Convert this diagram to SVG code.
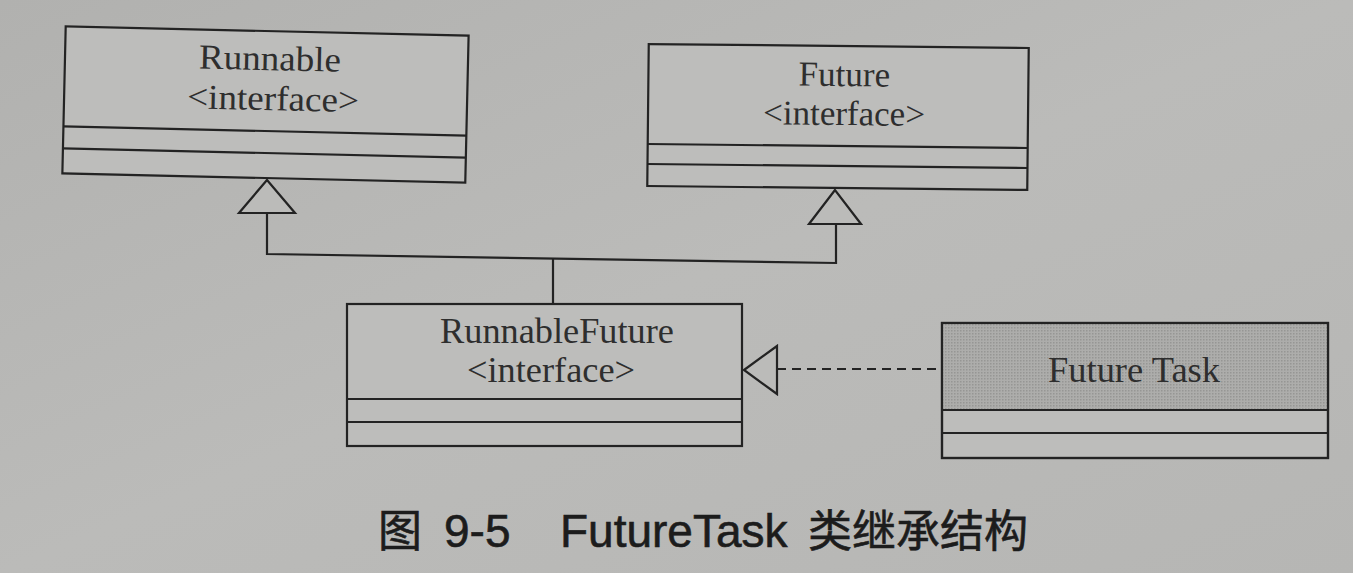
<svg xmlns="http://www.w3.org/2000/svg" width="1353" height="573" viewBox="0 0 1353 573">
  <defs>
    <style>
      .box { fill: #bdbdbb; stroke: #232323; stroke-width: 2.2; }
      .line { fill: none; stroke: #232323; stroke-width: 2.2; }
      .lbl { font-family: "Liberation Serif", "Times New Roman", serif; font-size: 35px; fill: #2e2e2e; text-anchor: middle; }
      .cap { font-family: "Liberation Sans", "Noto Sans CJK SC", sans-serif; font-size: 44px; fill: #1c1c1c; stroke: #1c1c1c; stroke-width: 0.6; }
      .tri { fill: #bbbbb9; stroke: #232323; stroke-width: 2.2; }
    </style>
    <linearGradient id="bg" x1="0" y1="0" x2="1" y2="1">
      <stop offset="0" stop-color="#b1b1af"/>
      <stop offset="0.5" stop-color="#bbbbb9"/>
      <stop offset="1" stop-color="#b6b6b4"/>
    </linearGradient>
    <pattern id="dots" width="3" height="3" patternUnits="userSpaceOnUse">
      <rect width="3" height="3" fill="#adadab"/>
      <rect width="1.5" height="1.5" fill="#969694"/>
    </pattern>
  </defs>
  <rect width="1353" height="573" fill="url(#bg)"/>

  <g id="runnable" transform="rotate(1.3 265 104)">
    <rect class="box" x="64" y="31" width="403" height="147"/>
    <line class="line" x1="64" y1="131" x2="467" y2="131"/>
    <line class="line" x1="64" y1="153" x2="467" y2="153"/>
    <text class="lbl" x="269" y="70" textLength="142" lengthAdjust="spacingAndGlyphs">Runnable</text>
    <text class="lbl" x="273" y="110" textLength="172" lengthAdjust="spacingAndGlyphs">&lt;interface&gt;</text>
  </g>

  <g id="future" transform="rotate(0.6 838 117)">
    <rect class="box" x="648" y="46" width="380" height="142"/>
    <line class="line" x1="648" y1="146" x2="1028" y2="146"/>
    <line class="line" x1="648" y1="166" x2="1028" y2="166"/>
    <text class="lbl" x="844" y="86">Future</text>
    <text class="lbl" x="844" y="125" textLength="162" lengthAdjust="spacingAndGlyphs">&lt;interface&gt;</text>
  </g>

  <g id="runnablefuture">
    <rect class="box" x="347" y="304" width="395" height="142"/>
    <line class="line" x1="347" y1="399" x2="742" y2="399"/>
    <line class="line" x1="347" y1="422" x2="742" y2="422"/>
    <text class="lbl" x="557" y="343" textLength="234" lengthAdjust="spacingAndGlyphs">RunnableFuture</text>
    <text class="lbl" x="551" y="382" textLength="168" lengthAdjust="spacingAndGlyphs">&lt;interface&gt;</text>
  </g>

  <g id="futuretask">
    <rect class="box" x="942" y="323" width="386" height="135"/>
    <rect x="943" y="324" width="384" height="86" fill="url(#dots)"/>
    <rect class="line" x="942" y="323" width="386" height="135"/>
    <line class="line" x1="942" y1="410" x2="1328" y2="410"/>
    <line class="line" x1="942" y1="433" x2="1328" y2="433"/>
    <text class="lbl" x="1134" y="382" textLength="172" lengthAdjust="spacingAndGlyphs">Future Task</text>
  </g>

  <g id="connectors">
    <polyline class="line" points="267,213 267,254 836,263 836,224"/>
    <line class="line" x1="553" y1="258" x2="553" y2="304"/>
    <polygon class="tri" points="267,180 239,213 295,213"/>
    <polygon class="tri" points="835,190 809,224 861,224"/>
    <line class="line" x1="777" y1="369" x2="942" y2="369" stroke-dasharray="9 6"/>
    <polygon class="tri" points="744,370 777,346 777,394"/>
  </g>

  <g id="caption">
    <text class="cap" y="547"><tspan x="378">图</tspan><tspan x="444" font-size="46">9-5</tspan><tspan x="560" font-size="46">FutureTask</tspan><tspan x="808">类继承结构</tspan></text>
  </g>
</svg>
